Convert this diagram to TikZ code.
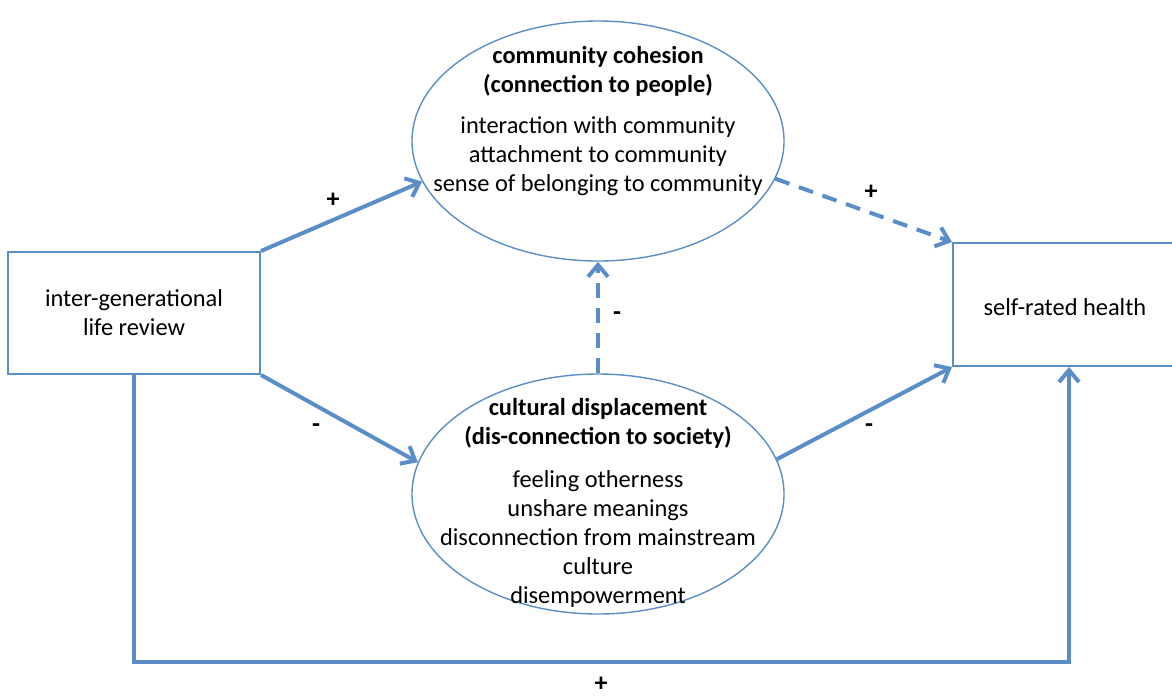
\documentclass[tikz,border=0pt]{standalone}
\usepackage{fontspec}
\setmainfont{Carlito}
\usetikzlibrary{shapes, arrows.meta, positioning}
\definecolor{pathblue}{RGB}{91,141,199}

\begin{document}
\begin{tikzpicture}[x=0.5pt, y=-0.5pt, >={Straight Barb[length=6pt,width=10pt]},
	every node/.style={font=\fontsize{12.2}{14.5}\selectfont},
	box/.style={rectangle, draw=pathblue, line width=1pt, fill=white},
	oval/.style={ellipse, draw=pathblue, line width=0.7pt, minimum width=186pt, minimum height=120pt},
	link/.style={->, draw=pathblue, line width=2pt},
	sign/.style={font=\fontsize{13}{14}\selectfont\bfseries}]

\useasboundingbox (0,0) rectangle (1172,698);

%life review
\node[box, minimum width=126pt, minimum height=61pt] (review) at (134,313) {};
\node[align=center] (reviewtext) at (review.center) {inter-generational\\life review};

%self-rated health
\node[box, minimum width=116pt, minimum height=61.5pt] (health) at (1069,304.5) {};
\node (healthtext) at (1065,307) {self-rated health};

%community cohesion
\node[oval] (cohesion) at (598,141) {};
\node[align=center] (cohesiontext) at (598,121) {
	\textbf{community cohesion}\\
	\textbf{(connection to people)}\\[6pt]
	interaction with community\\
	attachment to community\\
	sense of belonging to community
	};

%cultural displacement
\node[oval] (displace) at (598,494) {};
\node[align=center] (displacetext) at (598,503) {
	\textbf{cultural displacement}\\
	\textbf{(dis-connection to society)}\\[7pt]
	feeling otherness\\
	unshare meanings\\
	disconnection from mainstream\\
	culture\\
	disempowerment
	};

%Paths
%review to cohesion
\draw[link] (review.north east) -- (cohesion.193);
%review to displacement
\draw[link] (review.south east) -- (displace.170);
%displacement to cohesion
\draw[link, dash pattern=on 7.5pt off 5pt] (displace.north) -- (cohesion.south);
%cohesion to health
\draw[link, dash pattern=on 7.5pt off 5pt] (cohesion.-12) -- (health.north west);
%displacement to health
\draw[link] (displace.11) -- (health.south west);
%review to health, round the bottom
\coordinate (loop) at (598,662);
\draw[link] (review.south) |- (loop) -| (health.south);

%signs
\node[sign] (signA) at (333,200) {+};
\node[sign] (signB) at (316,428) {-};
\node[sign] (signC) at (617,316) {-};
\node[sign] (signD) at (871,192) {+};
\node[sign] (signE) at (869,428) {-};
\node[sign, inner sep=1pt] (signF) at (601,684) {+};

\end{tikzpicture}
\end{document}
